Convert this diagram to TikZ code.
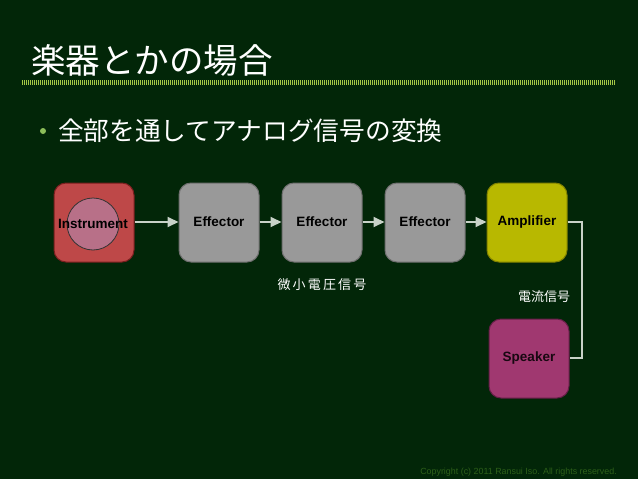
\documentclass[tikz,border=0pt]{standalone}
\usepackage{fontspec}
\setmainfont{Liberation Sans}
\newfontfamily\jp{Noto Sans CJK JP}
\usetikzlibrary{arrows.meta}
\definecolor{bg}{RGB}{2,38,8}
\definecolor{rule}{RGB}{165,200,70}
\definecolor{instr}{RGB}{190,72,72}
\definecolor{instrb}{RGB}{120,30,30}
\definecolor{circ}{RGB}{184,112,136}
\definecolor{effc}{RGB}{153,153,153}
\definecolor{effb}{RGB}{110,110,110}
\definecolor{ampc}{RGB}{184,184,0}
\definecolor{ampb}{RGB}{130,130,0}
\definecolor{spkc}{RGB}{160,56,112}
\definecolor{spkb}{RGB}{100,30,70}
\definecolor{wire}{RGB}{200,210,200}
\definecolor{copy}{RGB}{45,95,25}
\definecolor{bullet}{RGB}{140,190,90}
\tikzset{
  blk/.style={rounded corners=12pt, minimum width=80pt, minimum height=79pt, line width=1pt, inner sep=0pt},
  blklabel/.style={font=\fontsize{13.5}{14}\selectfont\bfseries, text=black, inner sep=0pt},
  wirearrow/.style={draw=wire, line width=2pt, -{Triangle[length=11pt,width=10pt]}},
  wireline/.style={draw=wire, line width=2pt},
  jplabel/.style={text=white, font=\jp\fontsize{13}{14}\selectfont, inner sep=0pt}
}
\begin{document}
\begin{tikzpicture}[x=1pt,y=-1pt]
\fill[bg] (0,0) rectangle (638,479);
\useasboundingbox (0,0) rectangle (638,479);
% title
\node[anchor=west, text=white, font=\jp\fontsize{34.5}{37}\selectfont, inner sep=0pt] (title) at (31,60) {楽器とかの場合};
\draw[rule, line width=5pt, dash pattern=on 1pt off 1pt] (22,82) -- (616,82);
% bullet
\fill[bullet] (43,131) circle (3pt);
\node[anchor=west, text=white, font=\jp\fontsize{25.7}{28}\selectfont, inner sep=0pt] (bul) at (58,131) {全部を通してアナログ信号の変換};
% boxes
\node[blk, fill=instr, draw=instrb] (inst) at (94,222.5) {};
\node[draw=black!80, fill=circ, circle, minimum size=52pt, inner sep=0pt, line width=0.8pt] (circ) at (93,224) {};
\node[blklabel] (instlabel) at (93,224) {Instrument};
\node[blk, fill=effc, draw=effb] (e1) at (219,222.5) {};
\node[blklabel] (e1l) at (219,222) {Effector};
\node[blk, fill=effc, draw=effb] (e2) at (322,222.5) {};
\node[blklabel] (e2l) at (322,222) {Effector};
\node[blk, fill=effc, draw=effb] (e3) at (425,222.5) {};
\node[blklabel] (e3l) at (425,222) {Effector};
\node[blk, fill=ampc, draw=ampb] (amp) at (527,222.5) {};
\node[blklabel] (ampl) at (527,222) {Amplifier};
\node[blk, fill=spkc, draw=spkb] (spk) at (529,358.5) {};
\node[blklabel, text=black!85!spkc] (spkl) at (529,358) {Speaker};
% connectors
\draw[wirearrow] ([yshift=0.5pt]inst.east) -- ([yshift=0.5pt]e1.west);
\draw[wirearrow] ([yshift=0.5pt]e1.east) -- ([yshift=0.5pt]e2.west);
\draw[wirearrow] ([yshift=0.5pt]e2.east) -- ([yshift=0.5pt]e3.west);
\draw[wirearrow] ([yshift=0.5pt]e3.east) -- ([yshift=0.5pt]amp.west);
\coordinate (c1) at (582,222);
\coordinate (c2) at (582,358);
\draw[wireline, line join=miter] (amp.east |- c1) -- (c1) -- (c2) -- (spk.east |- c2);
% labels
\node[jplabel] (l1) at (322,285) {微\,小\,電\,圧\,信\,号};
\node[jplabel] (l2) at (544,297) {電流信号};
% copyright
\node[anchor=east, text=copy, font=\fontsize{8.9}{10}\selectfont, inner sep=0pt] (cr) at (617,472) {Copyright (c) 2011 Ransui Iso. All rights reserved.};
\end{tikzpicture}
\end{document}
